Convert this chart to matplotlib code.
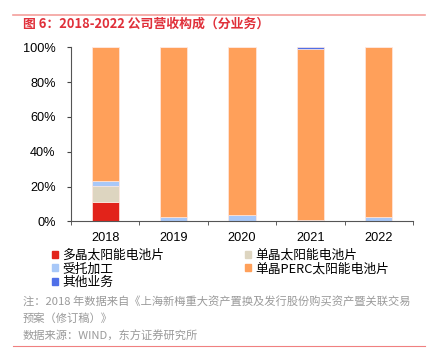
import numpy as np
import matplotlib.pyplot as plt
from matplotlib.lines import Line2D
from matplotlib.patches import Patch

plt.rcParams['font.family'] = ['Noto Sans CJK SC', 'DejaVu Sans']

# 数据
years = ['2018', '2019', '2020', '2021', '2022']
series_names = ['多晶太阳能电池片', '单晶太阳能电池片', '受托加工', '单晶PERC太阳能电池片', '其他业务']
duojing = [11.3, 0, 0, 0, 0]
danjing = [9.0, 0, 0, 0, 0]
shoutuo = [2.9, 2.5, 3.6, 0.5, 2.3]
perc = [76.8, 97.5, 96.4, 98.7, 97.7]
qita = [0, 0, 0, 0.8, 0]
colors = ['#E2231A', '#DDD5C0', '#A8C8F8', '#FFA05A', '#5070E8']

fig = plt.figure(figsize=(4.42, 3.55), dpi=100)
ax = fig.add_axes([71/442, 1-221.3/355, 342/442, 174/355])

x = np.arange(len(years))
bottom = np.zeros(len(years))
for vals, c in zip([duojing, danjing, shoutuo, perc, qita], colors):
    ax.bar(x, vals, bottom=bottom, width=0.4, color=c, edgecolor='#FFE8E0', linewidth=0.5)
    bottom += np.array(vals)

ax.set_xlim(-0.5, len(years) - 0.5)
ax.set_ylim(0, 100)
ax.set_yticks([0, 20, 40, 60, 80, 100])
ax.set_yticklabels([f'{v}%' for v in [0, 20, 40, 60, 80, 100]], fontsize=9.2, family=['Liberation Sans'])
ax.set_xticks(x)
ax.set_xticklabels(years, fontsize=9.2, family=['Liberation Sans'])
ax.set_xticks(np.arange(len(years) + 1) - 0.5, minor=True)
ax.tick_params(axis='x', which='major', length=0, pad=8)
ax.tick_params(axis='x', which='minor', length=3, color='#444444')
ax.tick_params(axis='y', length=3, color='#444444', pad=8)
for s in ['top', 'right']:
    ax.spines[s].set_visible(False)
for s in ['left', 'bottom']:
    ax.spines[s].set_color('#555555')
    ax.spines[s].set_linewidth(0.8)

# 图例
handles = [Patch(color=c) for c in colors]
order = [0, 2, 4, 1, 3]
leg = fig.legend([handles[i] for i in order], [series_names[i] for i in order],
                 ncol=2, loc='upper left', bbox_to_anchor=(47/442, 1-244/355),
                 frameon=False, fontsize=9.2, handlelength=0.45, handleheight=0.45,
                 handletextpad=0.35, columnspacing=6.3, labelspacing=0.02, borderaxespad=0)

# 标题和线
fig.add_artist(Line2D([13/442, 425/442], [1-15/355, 1-15/355], color='#F4A09C', linewidth=1.2))
fig.text(23/442, 1-24/355, '图 6：2018-2022 公司营收构成（分业务）', color='#E0303A',
         fontsize=9.3, va='center', ha='left', fontweight='bold')
fig.text(23/442, 1-302/355, '注：2018 年数据来自《上海新梅重大资产置换及发行股份购买资产暨关联交易',
         color='#9A9A9A', fontsize=8.1, va='center')
fig.text(23/442, 1-319/355, '预案（修订稿）》', color='#9A9A9A', fontsize=8.1, va='center')
fig.text(23/442, 1-336/355, '数据来源：WIND，东方证券研究所', color='#9A9A9A', fontsize=8.1, va='center')
fig.add_artist(Line2D([13/442, 425/442], [1-346/355, 1-346/355], color='#F08080', linewidth=0.8))

fig.savefig('out.png', dpi=100)
